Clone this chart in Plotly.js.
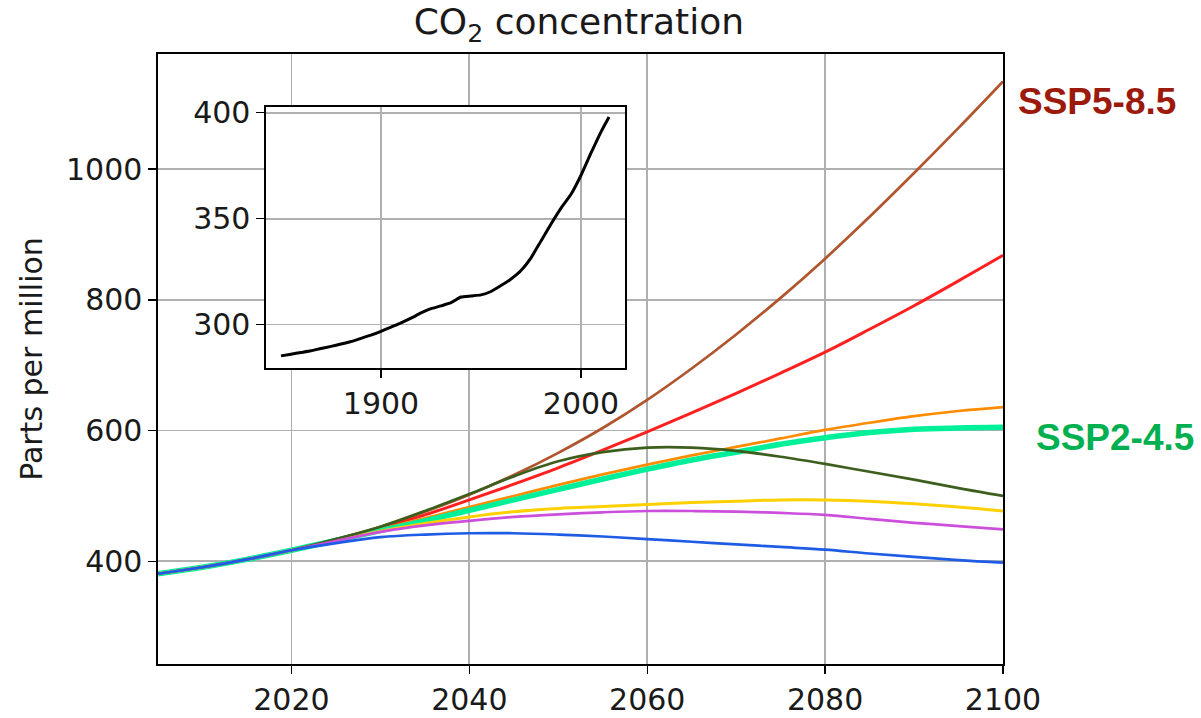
<!DOCTYPE html>
<html><head><meta charset="utf-8">
<script src="https://cdn.plot.ly/plotly-3.0.1.min.js"></script>
<style>body{margin:0;background:#fff}</style>
</head><body><div id="chart" style="width:1201px;height:718px"></div>
<script>
const years = [2005,2010,2015,2020,2025,2030,2035,2040,2045,2050,2055,2060,2065,2070,2075,2080,2085,2090,2095,2100];
const ssp585  = [381,391,403,417,434,453,476,502,532,566,604,647,695,747,803,863,927,994,1063,1134];
const ssp370  = [381,391,403,417,433,451,471,494,518,543,570,598,627,657,688,720,755,791,829,868];
const ssp460  = [381,391,403,417,433,449,466,483,500,517,533,548,562,575,588,601,612,622,630,636];
const ssp245  = [381,391,403,417,432,447,462,478,494,510,526,541,555,567,579,589,597,602,604,605];
const ssp434  = [381,391,403,417,432,446,458,468,476,481,484,487,490,492,494,494,492,488,483,477];
const ssp534os= [381,391,403,417,434,453,477,503,530,553,567,574,574,569,560,549,537,525,512,500];
const ssp126  = [381,391,403,417,431,445,455,462,468,472,475,477,477,476,474,471,465,459,454,449];
const ssp119  = [381,391,403,417,428,437,441,443,443,441,438,434,430,426,422,418,412,407,402,398];

const histYears = [1850,1855,1860,1865,1870,1875,1880,1885,1890,1895,1900,1905,1910,1915,1920,1925,1930,1935,1940,1945,1950,1955,1960,1965,1970,1975,1980,1985,1990,1995,2000,2005,2010,2014];
const histCO2 = [285.2,286,286.8,287.6,288.7,289.7,290.8,292,293.5,295,296.8,298.8,300.8,303,305.5,307.5,308.8,310.3,313,313.5,314,315.6,318.4,321.5,325.5,331.5,339.5,347.5,355,361.5,370.5,381,391,398];

const xTicks = [2020,2040,2060,2080,2100];
const yTicks = [400,600,800,1000];
const insetXTicks = [1900,2000];
const insetYTicks = [300,350,400];

const series = [
  {name:'SSP5-8.5', y:ssp585, color:'#b0552e', w:2.7},
  {name:'SSP3-7.0', y:ssp370, color:'#ff2020', w:3},
  {name:'SSP4-6.0', y:ssp460, color:'#ff8c00', w:2.7},
  {name:'SSP2-4.5', y:ssp245, color:'#00f09a', w:5.5},
  {name:'SSP4-3.4', y:ssp434, color:'#ffd000', w:3},
  {name:'SSP5-3.4-OS', y:ssp534os, color:'#3d5f1e', w:2.7},
  {name:'SSP1-2.6', y:ssp126, color:'#cc4fdc', w:2.7},
  {name:'SSP1-1.9', y:ssp119, color:'#1f5ce6', w:2.7}
];

const traces = series.map(s => ({
  x: years, y: s.y, type:'scatter', mode:'lines', name:s.name,
  line:{color:s.color, width:s.w, shape:'spline', smoothing:1},
  xaxis:'x', yaxis:'y', hoverinfo:'skip'
}));
traces.push({x:histYears, y:histCO2, type:'scatter', mode:'lines', name:'historical',
  line:{color:'#000', width:3, shape:'spline', smoothing:0.5}, xaxis:'x2', yaxis:'y2', hoverinfo:'skip'});

const font = 'DejaVu Sans, Verdana, sans-serif';
const axBase = {
  showline:true, linecolor:'#000', linewidth:1.6, mirror:true,
  ticks:'outside', ticklen:8, tickwidth:1.4, tickcolor:'#000',
  showgrid:true, gridcolor:'#b0b0b0', gridwidth:1.7, zeroline:false,
  tickfont:{family:font, size:30, color:'#1a1a1a'}, tickmode:'array'
};

const layout = {
  width:1201, height:718,
  margin:{l:158, r:198, t:54, b:54},
  paper_bgcolor:'#fff', plot_bgcolor:'#fff',
  showlegend:false,
  title:{text:'CO<sub>2</sub> concentration', font:{family:font, size:36, color:'#1a1a1a'},
    x:0.482, xanchor:'center', y:0.97, yanchor:'middle', yref:'container'},
  xaxis: Object.assign({}, axBase, {range:[2005,2100], tickvals:xTicks, domain:[0,1]}),
  yaxis: Object.assign({}, axBase, {range:[243,1176], tickvals:yTicks,
    title:{text:'Parts per million', font:{family:font, size:30, color:'#1a1a1a'}, standoff:14}}),
  xaxis2: Object.assign({}, axBase, {range:[1842.5,2022], tickvals:insetXTicks, anchor:'y2',
    domain:[0.1278,0.5527]}),
  yaxis2: Object.assign({}, axBase, {range:[279.5,402.8], tickvals:insetYTicks, anchor:'x2',
    domain:[0.4853,0.9134]}),
  annotations:[
    {text:'<b>SSP5-8.5</b>', xref:'paper', yref:'paper', x:(1016-158)/845, y:(664-101)/610,
      xanchor:'left', yanchor:'middle', showarrow:false,
      font:{family:'Liberation Sans, Arial, sans-serif', size:37, color:'#9c1a0c'}},
    {text:'<b>SSP2-4.5</b>', xref:'paper', yref:'paper', x:(1034-158)/845, y:(664-438)/610,
      xanchor:'left', yanchor:'middle', showarrow:false,
      font:{family:'Liberation Sans, Arial, sans-serif', size:37, color:'#00b050'}}
  ]
};

Plotly.newPlot('chart', traces, layout, {staticPlot:true, displayModeBar:false});
</script>
</body></html>
